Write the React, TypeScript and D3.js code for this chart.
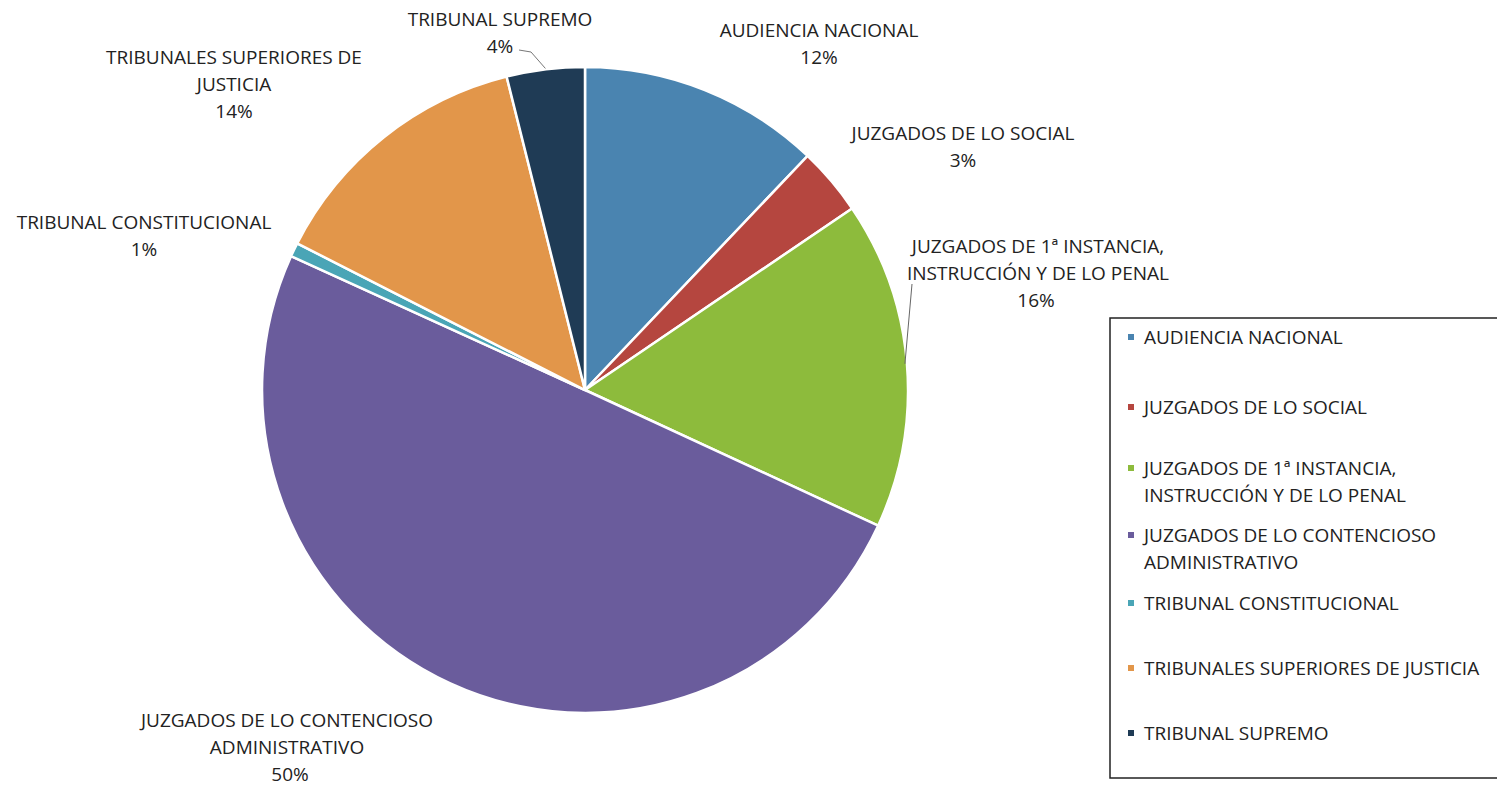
import React from "react";
import * as d3 from "d3";

const categories = [
  "AUDIENCIA NACIONAL",
  "JUZGADOS DE LO SOCIAL",
  "JUZGADOS DE 1ª INSTANCIA, INSTRUCCIÓN Y DE LO PENAL",
  "JUZGADOS DE LO CONTENCIOSO ADMINISTRATIVO",
  "TRIBUNAL CONSTITUCIONAL",
  "TRIBUNALES SUPERIORES DE JUSTICIA",
  "TRIBUNAL SUPREMO",
];
const values = [12.1, 3.4, 16.4, 49.9, 0.7, 13.6, 3.9];
const colors = ["#4a84b0", "#b5463f", "#8dbb3c", "#6a5c9c", "#4aa5b6", "#e2964a", "#1f3b55"];

// label text lines (as printed on the chart)
const labelLines = [
  ["AUDIENCIA NACIONAL"],
  ["JUZGADOS DE LO SOCIAL"],
  ["JUZGADOS DE 1ª INSTANCIA,", "INSTRUCCIÓN Y DE LO PENAL"],
  ["JUZGADOS DE LO CONTENCIOSO", "ADMINISTRATIVO"],
  ["TRIBUNAL CONSTITUCIONAL"],
  ["TRIBUNALES SUPERIORES DE", "JUSTICIA"],
  ["TRIBUNAL SUPREMO"],
];
const legendLines = [
  ["AUDIENCIA NACIONAL"],
  ["JUZGADOS DE LO SOCIAL"],
  ["JUZGADOS DE 1ª INSTANCIA,", "INSTRUCCIÓN Y DE LO PENAL"],
  ["JUZGADOS DE LO CONTENCIOSO", "ADMINISTRATIVO"],
  ["TRIBUNAL CONSTITUCIONAL"],
  ["TRIBUNALES SUPERIORES DE JUSTICIA"],
  ["TRIBUNAL SUPREMO"],
];

const W = 1497;
const H = 786;
const cx = 585;
const cy = 390;
const R = 323;

// label anchor placements (center x, first line baseline y)
const labelPos = [
  { x: 819, y: 37 },
  { x: 963, y: 140 },
  { x: 1038, y: 253 },
  { x: 287, y: 727 },
  { x: 144, y: 229 },
  { x: 234, y: 64 },
  { x: 500, y: 26 },
];
const pctDx = [0, 0, -2, 3, 0, 0, 0];
const legendY = [344, 414, 475, 542, 610, 675, 740];

const FONT = "'Open Sans', 'Noto Sans', sans-serif";
const FS = 19;
const LH = 27;

export default function App() {
  const pie = d3.pie<number>().sort(null).value((d) => d);
  const arcs = pie(values);
  const arc = d3.arc<d3.PieArcDatum<number>>().innerRadius(0).outerRadius(R);
  const total = d3.sum(values);
  const fmt = (v: number) => `${Math.round((v / total) * 100)}%`;

  const edge = (a: d3.PieArcDatum<number>, r: number) => {
    const m = (a.startAngle + a.endAngle) / 2;
    return [cx + r * Math.sin(m), cy - r * Math.cos(m)];
  };

  const gEdge = edge(arcs[2], R - 2);
  const sEdge = edge(arcs[6], R + 1);

  return (
    <svg
      width={W}
      height={H}
      style={{ position: "absolute", left: 0, top: 0, background: "#fff" }}
      fontFamily={FONT}
    >
      <rect x={0} y={0} width={W} height={H} fill="#ffffff" />
      <g transform={`translate(${cx},${cy})`}>
        {arcs.map((a, i) => (
          <path key={i} d={arc(a) || ""} fill={colors[i]} stroke="#ffffff" strokeWidth={2.5} />
        ))}
      </g>
      {/* leader lines */}
      <path
        d={`M${gEdge[0]},${gEdge[1]} L${912},${284}`}
        stroke="#666"
        strokeWidth={1}
        fill="none"
      />
      <path
        d={`M${sEdge[0]},${sEdge[1]} L${531},${52} L${519},${50}`}
        stroke="#777"
        strokeWidth={1}
        fill="none"
      />
      {/* data labels */}
      {labelLines.map((lines, i) => (
        <text key={i} textAnchor="middle" fontSize={FS} fill="#222">
          {lines.map((l, j) => (
            <tspan key={j} x={labelPos[i].x} y={labelPos[i].y + j * LH}>
              {l}
            </tspan>
          ))}
          <tspan x={labelPos[i].x + pctDx[i]} y={labelPos[i].y + lines.length * LH}>
            {fmt(values[i])}
          </tspan>
        </text>
      ))}
      {/* legend */}
      <rect x={1110} y={318} width={400} height={460} fill="#fff" stroke="#222" strokeWidth={1.5} />
      {legendLines.map((lines, i) => (
        <g key={i}>
          <rect x={1128} y={legendY[i] - 10} width={6} height={6} fill={colors[i]} />
          <text fontSize={FS} fill="#222">
            {lines.map((l, j) => (
              <tspan key={j} x={1144} y={legendY[i] + j * 27}>
                {l}
              </tspan>
            ))}
          </text>
        </g>
      ))}
    </svg>
  );
}
